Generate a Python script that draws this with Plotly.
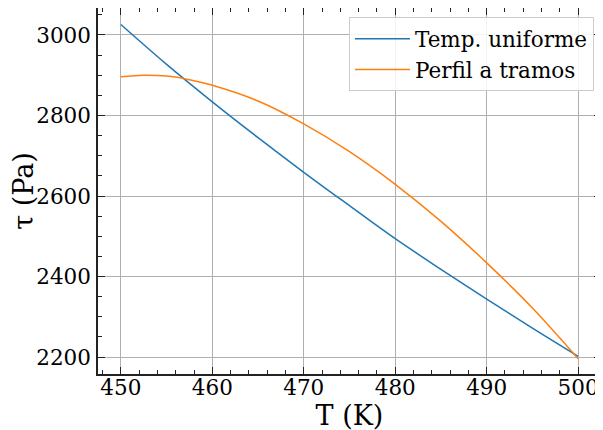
import plotly.graph_objects as go

# Data
T_uniform = [450, 455, 460, 465, 470, 475, 480, 485, 490, 495, 500]
tau_uniform = [3026, 2927, 2834, 2745, 2659, 2576, 2494, 2418, 2344, 2272, 2202]

T_tramos = [450, 452.5, 455, 457.5, 460, 465, 470, 475, 480, 485, 490, 495, 500]
tau_tramos = [2896, 2900, 2898, 2889, 2875, 2836, 2779, 2710, 2629, 2537, 2434, 2322, 2196]

x_ticks = [450, 460, 470, 480, 490, 500]
y_ticks = [2200, 2400, 2600, 2800, 3000]

FONT = "DejaVu Serif"

fig = go.Figure()
fig.add_trace(go.Scatter(x=T_uniform, y=tau_uniform, mode="lines",
                         line=dict(color="#1f77b4", width=1.5, shape="spline"),
                         name="Temp. uniforme"))
fig.add_trace(go.Scatter(x=T_tramos, y=tau_tramos, mode="lines",
                         line=dict(color="#ff7f0e", width=1.5, shape="spline"),
                         name="Perfil a tramos"))

axis_common = dict(
    showline=True, linecolor="#222222", linewidth=1.5, mirror="allticks",
    ticks="inside", ticklen=7, tickwidth=1.3, tickcolor="#222222",
    showgrid=True, gridcolor="#b0b0b0", gridwidth=1,
    zeroline=False, automargin=False,
    tickfont=dict(family=FONT, size=21.5, color="black"),
)

fig.update_xaxes(
    range=[447.5, 502.5], tickvals=x_ticks, ticktext=[str(v) for v in x_ticks],
    minor=dict(ticks="inside", ticklen=4, tickwidth=1.1, tickcolor="#222222",
               dtick=2, showgrid=False),
    title=dict(text="T (K)", font=dict(family=FONT, size=27, color="black"), standoff=2),
    ticklabelstandoff=-7,
    **axis_common,
)
fig.update_yaxes(
    range=[2158, 3067], tickvals=y_ticks, ticktext=[str(v) for v in y_ticks],
    minor=dict(ticks="inside", ticklen=4, tickwidth=1.1, tickcolor="#222222",
               dtick=50, showgrid=False),
    title=dict(text="τ (Pa)", font=dict(family=FONT, size=27, color="black"), standoff=2),
    ticklabelstandoff=1,
    **axis_common,
)

# the page body has an 8px margin, so the figure is drawn 8px right/down;
# margins compensate for that offset
fig.update_layout(
    width=603, height=430,
    margin=dict(l=90, r=10, t=0, b=64),
    paper_bgcolor="white", plot_bgcolor="white",
    showlegend=True,
    legend=dict(x=0.986, y=0.975, xanchor="right", yanchor="top",
                itemwidth=55,
                bgcolor="rgba(255,255,255,0.85)", bordercolor="#cccccc", borderwidth=1,
                font=dict(family=FONT, size=21.5, color="black")),
)

fig.write_html("out.html")
